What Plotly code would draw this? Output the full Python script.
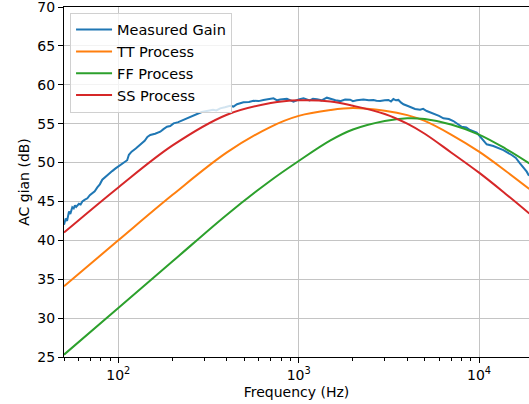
import math
import plotly.graph_objects as go

# Measured amplifier gain (Hz, dB)
freq_meas = [50.0, 50.6, 51.1, 52.0, 52.7, 53.3, 54.2, 55.0, 55.6, 56.6, 57.5, 58.4, 59.3,
             60.5, 61.8, 63.2, 65.0, 67.4, 69.5, 71.8, 74.0, 76.5, 79.0, 81.5, 85.0, 88.8,
             92.5, 96.6, 100, 103, 106, 109.7, 112, 114.5, 118.5, 125, 132.4, 140, 145, 150.4,
             160, 170.9, 178, 186.2, 194, 202.5, 215, 230, 250, 260, 272.8, 290, 309.8, 335,
             350, 367.3, 390, 417, 435, 455, 494.5, 530, 562, 600, 638, 680, 725, 760, 790, 860,
             900, 936, 1000, 1064, 1150, 1200, 1262, 1340, 1433, 1497, 1600, 1700, 1810, 1929,
             2000, 2100, 2285, 2450, 2596, 2700, 2830, 3000, 3147, 3250, 3351, 3460, 3573,
             3700, 3810, 4000, 4150, 4418, 4711, 4900, 5130, 5584, 6000, 6345, 6800, 7206,
             8015, 8500, 8916, 9707, 10350, 11030, 12000, 12800, 13650, 15180, 16000, 16870,
             18380, 18920]
gain_meas = [42.0, 42.6, 42.8, 42.5, 43.2, 43.7, 43.4, 44.0, 44.25, 44.1, 44.5, 44.3, 44.55,
             44.7, 44.6, 45.0, 45.2, 45.4, 45.8, 46.1, 46.3, 46.8, 47.2, 47.8, 48.2, 48.6,
             48.9, 49.25, 49.5, 49.7, 49.9, 50.1, 50.3, 51.0, 51.4, 51.8, 52.26, 52.8, 53.3, 53.54,
             53.7, 53.97, 54.3, 54.6, 54.7, 55.04, 55.2, 55.5, 55.9, 56.1, 56.33, 56.5, 56.63, 56.8,
             56.7, 56.97, 57.1, 57.3, 57.2, 57.5, 57.75, 57.8, 57.95, 57.9, 58.04, 58.15, 58.26, 58.0, 58.1, 58.2,
             57.95, 57.83, 58.1, 58.26, 58.0, 58.2, 58.15, 58.0, 58.34, 58.17, 58.0, 57.9, 58.1, 58.09,
             57.9, 58.0, 58.09, 58.0, 58.05, 57.95, 57.9, 58.0, 58.05, 57.85, 58.17, 58.0, 58.05,
             57.7, 57.49, 57.3, 57.18, 56.89, 56.8, 56.9, 56.63, 56.33, 56.0, 55.69, 55.6, 55.34,
             54.6, 54.5, 54.19, 53.84, 53.12, 52.35, 52.13, 51.9, 51.6, 50.97, 50.6, 49.9,
             48.83, 48.3]

# Simulated process corners (Hz, dB)
freq_tt = [50, 100, 200, 400, 700, 1000, 1500, 2000, 3000, 4000, 5000, 7000, 10000, 14000, 19000]
gain_tt = [34.1, 40.0, 45.85, 51.3, 54.6, 56.0, 56.75, 57.0, 56.65, 56.1, 55.35, 53.6, 51.4, 48.95, 46.6]

freq_ff = [50, 100, 200, 400, 700, 1000, 1500, 2000, 3000, 4000, 5000, 7000, 10000, 14000, 19000]
gain_ff = [25.3, 31.3, 37.3, 43.3, 47.7, 50.2, 52.85, 54.25, 55.35, 55.7, 55.6, 54.9, 53.6, 51.8, 49.9]

freq_ss = [50, 100, 200, 400, 700, 1000, 1500, 2000, 3000, 4000, 5000, 7000, 10000, 14000, 19000]
gain_ss = [41.0, 46.8, 52.2, 56.15, 57.65, 58.0, 57.85, 57.3, 56.25, 55.0, 53.7, 51.3, 48.7, 46.0, 43.45]

major_ticks = [100, 1000, 10000]
major_labels = ["10<sup>2</sup>", "10<sup>3</sup>", "10<sup>4</sup>"]
minor_ticks = [m * 10 ** e for e in range(1, 5) for m in range(2, 10) if 50 <= m * 10 ** e <= 19000]

series = [
    ("Measured Gain", freq_meas, gain_meas, "#1f77b4", "linear"),
    ("TT Process", freq_tt, gain_tt, "#ff7f0e", "spline"),
    ("FF Process", freq_ff, gain_ff, "#2ca02c", "spline"),
    ("SS Process", freq_ss, gain_ss, "#d62728", "spline"),
]

fig = go.Figure()
for name, fx, gy, color, shape in series:
    fig.add_trace(go.Scatter(
        x=fx, y=gy, mode="lines", name=name, legendgroup=name,
        line=dict(color=color, width=2, shape=shape),
    ))

grid = "#c4c4c4"
fig.update_layout(
    width=529, height=404,
    margin=dict(l=64, r=0, t=7, b=47),
    plot_bgcolor="white", paper_bgcolor="white",
    font=dict(family="DejaVu Sans", size=14, color="black"),
    legend=dict(
        x=0.013, y=0.984, xanchor="left", yanchor="top",
        bgcolor="rgba(255,255,255,0.8)", bordercolor="#d0d0d0", borderwidth=1,
        tracegroupgap=0, itemwidth=36, font=dict(size=14.5),
    ),
)
fig.update_xaxes(
    type="log", range=[math.log10(50), 4.277],
    tickmode="array", tickvals=major_ticks, ticktext=major_labels,
    ticks="outside", ticklen=5, tickwidth=1, tickcolor="black",
    showgrid=True, gridcolor=grid, gridwidth=1.2,
    showline=True, linecolor="black", linewidth=1, mirror=True,
    minor=dict(tickmode="array", tickvals=minor_ticks, ticks="outside", ticklen=3,
               tickwidth=1, tickcolor="black", showgrid=False),
    title=dict(text="Frequency (Hz)", standoff=5, font=dict(size=14)),
    zeroline=False,
)
fig.update_yaxes(
    range=[25, 70], tickmode="array", tickvals=list(range(25, 71, 5)),
    ticks="outside", ticklen=5, tickwidth=1, tickcolor="black",
    ticklabeloverflow="allow",
    showgrid=True, gridcolor=grid, gridwidth=1.2,
    showline=True, linecolor="black", linewidth=1, mirror=False,
    title=dict(text="AC gian (dB)", standoff=4, font=dict(size=14)),
    zeroline=False,
)

fig.write_html("out.html")
